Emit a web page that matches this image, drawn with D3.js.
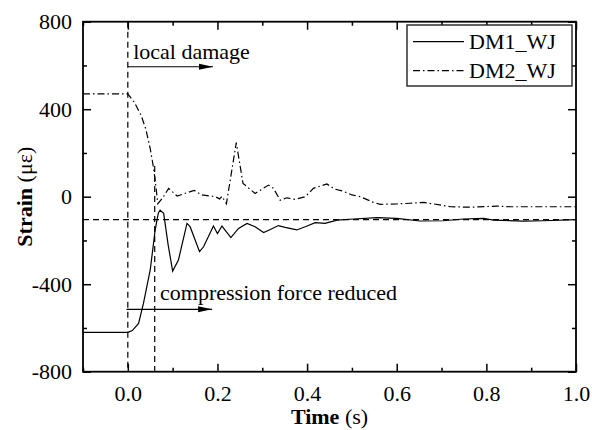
<!DOCTYPE html>
<html>
<head>
<meta charset="utf-8">
<script src="https://cdn.jsdelivr.net/npm/d3@7"></script>
<style>
  html, body { margin: 0; padding: 0; background: #fff; }
  svg { display: block; font-family: "Liberation Serif", "Times New Roman", serif; }
</style>
</head>
<body>
<svg id="chart" width="592" height="430"></svg>
<script>
// ---- data ----
const dm1Time = [-0.1, 0.0, 0.01, 0.024, 0.035, 0.05, 0.061, 0.068, 0.072, 0.08, 0.09, 0.1, 0.113, 0.132, 0.139, 0.16, 0.169, 0.191, 0.2, 0.21, 0.23, 0.247, 0.266, 0.284, 0.303, 0.318, 0.336, 0.351, 0.377, 0.4, 0.418, 0.44, 0.467, 0.504, 0.556, 0.6, 0.652, 0.704, 0.749, 0.794, 0.816, 0.883, 0.928, 1.0];
const dm1Strain = [-620, -620, -612, -579, -487, -335, -152, -75, -62, -76, -220, -340, -289, -122, -137, -251, -229, -134, -168, -134, -187, -145, -122, -137, -164, -150, -132, -140, -152, -134, -119, -122, -107, -102, -96, -99, -111, -110, -102, -99, -107, -112, -110, -105];

const dm2Time = [-0.1, 0.0, 0.015, 0.03, 0.04, 0.05, 0.057, 0.061, 0.067, 0.078, 0.091, 0.11, 0.148, 0.165, 0.195, 0.205, 0.21, 0.22, 0.242, 0.257, 0.284, 0.314, 0.325, 0.34, 0.355, 0.373, 0.396, 0.414, 0.444, 0.463, 0.478, 0.5, 0.519, 0.548, 0.563, 0.6, 0.63, 0.66, 0.682, 0.72, 0.764, 0.824, 0.853, 0.913, 1.0];
const dm2Strain = [470, 470, 430, 370, 310, 220, 137, 76, -32, -5, 38, 3, 29, 8, 0, -10, 2, -32, 247, 61, 15, 53, 38, -16, -5, -12, 0, 38, 58, 34, 27, 8, 0, -26, -35, -33, -30, -26, -33, -46, -48, -43, -46, -46, -46];

const seriesNames = ["DM1_WJ", "DM2_WJ"];
const xMajorTicks = [0.0, 0.2, 0.4, 0.6, 0.8, 1.0];
const xMinorTicks = [-0.1, 0.1, 0.3, 0.5, 0.7, 0.9];
const yMajorTicks = [-800, -400, 0, 400, 800];
const yMinorTicks = [-600, -200, 200, 600];
const refLevel = -105;              // horizontal dashed reference
const eventTimes = [0.0, 0.06];     // vertical dashed markers
const annotations = ["local damage", "compression force reduced"];

// ---- layout ----
const W = 592, H = 430;
const m = { left: 83, right: 16, top: 21.7, bottom: 58.3 };
const svg = d3.select("#chart");
const x = d3.scaleLinear().domain([-0.1, 1.0]).range([m.left, W - m.right]);
const y = d3.scaleLinear().domain([-800, 800]).range([H - m.bottom, m.top]);
const fmtX = d3.format(".1f");

svg.append("defs").append("marker")
  .attr("id", "arr").attr("viewBox", "0 0 14 8")
  .attr("refX", 14).attr("refY", 4)
  .attr("markerWidth", 14).attr("markerHeight", 8)
  .attr("markerUnits", "userSpaceOnUse")
  .attr("orient", "auto")
  .append("path").attr("d", "M0,1 L14,4 L0,7 Z").attr("fill", "#000");

// ---- reference dashed lines ----
const gRef = svg.append("g");
gRef.append("line")
  .attr("x1", x(-0.1)).attr("x2", x(1.0))
  .attr("y1", y(refLevel)).attr("y2", y(refLevel))
  .attr("stroke", "#000").attr("stroke-width", 1.2).attr("stroke-dasharray", "6,4");
gRef.append("line")
  .attr("x1", x(eventTimes[0])).attr("x2", x(eventTimes[0]))
  .attr("y1", y(800)).attr("y2", y(-800))
  .attr("stroke", "#000").attr("stroke-width", 1.2).attr("stroke-dasharray", "6,4");
gRef.append("line")
  .attr("x1", x(eventTimes[1])).attr("x2", x(eventTimes[1]))
  .attr("y1", y(140)).attr("y2", y(-800))
  .attr("stroke", "#000").attr("stroke-width", 1.2).attr("stroke-dasharray", "6,4");

// ---- series ----
const line = d3.line().x(d => x(d[0])).y(d => y(d[1]));
const dm1 = dm1Time.map((t, i) => [t, dm1Strain[i]]);
const dm2 = dm2Time.map((t, i) => [t, dm2Strain[i]]);
svg.append("path").datum(dm1).attr("d", line)
  .attr("fill", "none").attr("stroke", "#000").attr("stroke-width", 1.2);
svg.append("path").datum(dm2).attr("d", line)
  .attr("fill", "none").attr("stroke", "#000").attr("stroke-width", 1.2)
  .attr("stroke-dasharray", "7,3,1.5,3");

// ---- annotations ----
svg.append("text").attr("x", x(0.012)).attr("y", y(630))
  .attr("font-size", 22).text(annotations[0]);
svg.append("line")
  .attr("x1", x(0.0)).attr("x2", x(0.19))
  .attr("y1", y(594)).attr("y2", y(594))
  .attr("stroke", "#000").attr("stroke-width", 1.2).attr("marker-end", "url(#arr)");
svg.append("text").attr("x", x(0.072)).attr("y", y(-472))
  .attr("font-size", 22).text(annotations[1]);
svg.append("line")
  .attr("x1", x(-0.003)).attr("x2", x(0.188))
  .attr("y1", y(-515)).attr("y2", y(-515))
  .attr("stroke", "#000").attr("stroke-width", 1.2).attr("marker-end", "url(#arr)");

// ---- axes (ticks inward, mirrored) ----
function styleAxis(sel) {
  sel.select(".domain").remove();
  sel.selectAll(".tick line").attr("stroke", "#000").attr("stroke-width", 1.5);
  sel.selectAll("text").attr("font-size", 22).attr("fill", "#000")
    .attr("font-family", "Liberation Serif, Times New Roman, serif");
}
const axB = svg.append("g").attr("transform", `translate(0,${H - m.bottom})`);
axB.append("g").call(d3.axisBottom(x).tickValues(xMajorTicks).tickSize(-8).tickPadding(14).tickFormat(fmtX)).call(styleAxis);
axB.append("g").call(d3.axisBottom(x).tickValues(xMinorTicks).tickSize(-4).tickFormat("")).call(styleAxis);
const axT = svg.append("g").attr("transform", `translate(0,${m.top})`);
axT.append("g").call(d3.axisTop(x).tickValues(xMajorTicks).tickSize(-8).tickFormat("")).call(styleAxis);
axT.append("g").call(d3.axisTop(x).tickValues(xMinorTicks).tickSize(-4).tickFormat("")).call(styleAxis);
const axL = svg.append("g").attr("transform", `translate(${m.left},0)`);
axL.append("g").call(d3.axisLeft(y).tickValues(yMajorTicks).tickSize(-8).tickPadding(11).tickFormat(d3.format("d"))).call(styleAxis);
axL.append("g").call(d3.axisLeft(y).tickValues(yMinorTicks).tickSize(-4).tickFormat("")).call(styleAxis);
const axR = svg.append("g").attr("transform", `translate(${W - m.right},0)`);
axR.append("g").call(d3.axisRight(y).tickValues(yMajorTicks).tickSize(-8).tickFormat("")).call(styleAxis);
axR.append("g").call(d3.axisRight(y).tickValues(yMinorTicks).tickSize(-4).tickFormat("")).call(styleAxis);
// tick label minus sign as hyphen like the reference
svg.selectAll(".tick text").each(function () {
  const s = d3.select(this); s.text(s.text().replace("\u2212", "-"));
});

// frame
svg.append("rect")
  .attr("x", x(-0.1)).attr("y", y(800))
  .attr("width", x(1.0) - x(-0.1)).attr("height", y(-800) - y(800))
  .attr("fill", "none").attr("stroke", "#000").attr("stroke-width", 1.8);

// ---- axis titles ----
const xt = svg.append("text").attr("x", (x(-0.1) + x(1.0)) / 2).attr("y", 424)
  .attr("text-anchor", "middle").attr("font-size", 22);
xt.append("tspan").attr("font-weight", "bold").text("Time");
xt.append("tspan").text(" (s)");
const yt = svg.append("text")
  .attr("transform", `translate(31.5,${(y(800) + y(-800)) / 2}) rotate(-90)`)
  .attr("text-anchor", "middle").attr("font-size", 22);
yt.append("tspan").attr("font-weight", "bold").text("Strain");
yt.append("tspan").text(" (\u03bc\u03b5)");

// ---- legend ----
const lg = svg.append("g");
lg.append("rect").attr("x", 407).attr("y", 25).attr("width", 165).attr("height", 61)
  .attr("fill", "#fff").attr("stroke", "#222").attr("stroke-width", 1.4);
seriesNames.forEach((name, i) => {
  const ly = 41.7 + i * 29;
  lg.append("line").attr("x1", 413).attr("x2", 464).attr("y1", ly).attr("y2", ly)
    .attr("stroke", "#000").attr("stroke-width", 1.2)
    .attr("stroke-dasharray", i === 0 ? null : "7,3,1.5,3");
  lg.append("text").attr("x", 469).attr("y", ly + 7.5).attr("font-size", 22).text(name);
});
</script>
</body>
</html>
